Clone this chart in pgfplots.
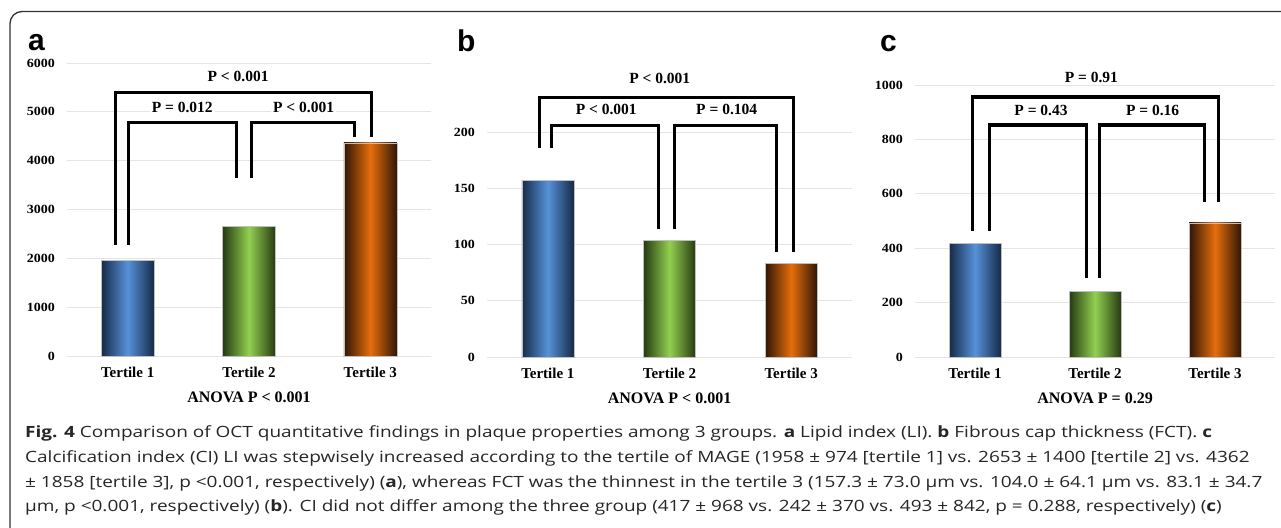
\documentclass[border=0pt]{standalone}
\usepackage{fontspec}
\setmainfont{Liberation Serif}
\newfontfamily\capfont{Open Sans}
\newfontfamily\letfont{Liberation Sans}
\usepackage{pgfplots}
\pgfplotsset{compat=1.18}
\definecolor{bluD}{RGB}{22,42,72}
\definecolor{bluL}{RGB}{86,146,216}
\definecolor{grnD}{RGB}{38,58,18}
\definecolor{grnL}{RGB}{146,208,80}
\definecolor{orgD}{RGB}{48,22,6}
\definecolor{orgL}{RGB}{230,110,12}
\definecolor{gridc}{RGB}{228,228,228}
\tikzset{plab/.style={fill=white, inner sep=2pt, font=\bfseries\fontsize{15.5}{16}\selectfont}}
\pgfplotsset{
  panel/.style={
    scale only axis, anchor=south west,
    xmin=-0.5, xmax=2.5, ymin=0,
    xtick={0,1,2}, xticklabels={Tertile 1,Tertile 2,Tertile 3},
    axis line style={draw=none}, tick style={draw=none},
    ymajorgrids, grid style={gridc, line width=1pt},
    clip=false, scaled y ticks=false,
    /pgf/number format/assume math mode=true,
    /pgf/number format/1000 sep={},
    yticklabel={\scalebox{1.12}[1]{\pgfmathprintnumber{\tick}}},
    yticklabel style={font=\bfseries\fontsize{12.5}{14}\selectfont, inner sep=0pt, anchor=east, xshift=-12pt},
    xticklabel style={font=\bfseries\fontsize{15}{16}\selectfont, inner sep=0pt, anchor=north, yshift=-11pt},
    xlabel style={at={(axis description cs:0.5,0)}, anchor=north, inner sep=0pt, yshift=-36pt, font=\bfseries\fontsize{16}{17}\selectfont},
  },
  brk/.style={black, line width=3.2pt, line join=miter, line cap=butt, mark=none},
  b1/.style={ybar, bar shift=0pt, draw=black!25, line width=0.4pt, left color=bluD, right color=bluD, middle color=bluL},
  b2/.style={ybar, bar shift=0pt, draw=black!25, line width=0.4pt, left color=grnD, right color=grnD, middle color=grnL},
  b3/.style={ybar, bar shift=0pt, draw=black!25, line width=0.4pt, left color=orgD, right color=orgD, middle color=orgL},
}
\begin{document}
\begin{tikzpicture}
\useasboundingbox (0pt,0pt) rectangle (1281pt,-527pt);
\fill[white] (0pt,0pt) rectangle (1281pt,-527pt);
\draw[line width=1.3pt, black!80, rounded corners=12pt] (1290pt,-11.5pt) -- (10pt,-11.5pt) -- (10pt,-535pt);

% panel a
\begin{axis}[panel, at={(67pt,-356pt)}, width=364pt, height=293pt, ymax=6000,
  ytick={0,1000,2000,3000,4000,5000,6000}, xlabel={ANOVA P < 0.001}]
\addplot[b1, bar width=53pt] coordinates {(0,1958)};
\addplot[b2, bar width=53pt] coordinates {(1,2653)};
\addplot[b3, bar width=53pt] coordinates {(2,4362)};
\addplot[brk] coordinates {(-0.10,2275) (-0.10,5389) (2.01,5389) (2.01,4488)};
\addplot[brk] coordinates {(0.01,2275) (0.01,4775) (0.90,4775) (0.90,3648)};
\addplot[brk] coordinates {(1.02,3648) (1.02,4775) (1.87,4775) (1.87,4488)};
\node[plab] at (axis cs:0.91,5717) {P < 0.001};
\node[plab] at (axis cs:0.45,5082) {P = 0.012};
\node[plab] at (axis cs:1.45,5082) {P < 0.001};
\end{axis}

% panel b
\begin{axis}[panel, at={(487pt,-357pt)}, width=365pt, height=225pt, ymax=200,
  ytick={0,50,100,150,200}, xlabel={ANOVA P < 0.001}]
\addplot[b1, bar width=52pt] coordinates {(0,157.3)};
\addplot[b2, bar width=52pt] coordinates {(1,104.0)};
\addplot[b3, bar width=52pt] coordinates {(2,83.1)};
\addplot[brk] coordinates {(-0.07,186) (-0.07,231) (2.02,231) (2.02,93)};
\addplot[brk] coordinates {(0.03,186) (0.03,206) (0.91,206) (0.91,114)};
\addplot[brk] coordinates {(1.04,114) (1.04,206) (1.88,206) (1.88,93)};
\node[plab] at (axis cs:0.92,248) {P < 0.001};
\node[plab] at (axis cs:0.48,219.6) {P < 0.001};
\node[plab] at (axis cs:1.47,219.6) {P = 0.104};
\end{axis}

% panel c
\begin{axis}[panel, at={(915pt,-357pt)}, width=360pt, height=272pt, ymax=1000,
  ytick={0,200,400,600,800,1000}, xlabel={ANOVA P = 0.29}]
\addplot[b1, bar width=52pt] coordinates {(0,417)};
\addplot[b2, bar width=52pt] coordinates {(1,242)};
\addplot[b3, bar width=52pt] coordinates {(2,493)};
\addplot[brk] coordinates {(-0.02,463) (-0.02,956) (2.03,956) (2.03,570)};
\addplot[brk] coordinates {(0.12,463) (0.12,853) (0.93,853) (0.93,290)};
\addplot[brk] coordinates {(1.04,290) (1.04,853) (1.91,853) (1.91,570)};
\node[plab] at (axis cs:0.97,1026) {P = 0.91};
\node[plab] at (axis cs:0.55,908) {P = 0.43};
\node[plab] at (axis cs:1.48,908) {P = 0.16};
\end{axis}

% panel letters
\node[anchor=base west, inner sep=0pt, font=\letfont\bfseries\fontsize{30}{30}\selectfont] at (28pt,-51pt) {a};
\node[anchor=base west, inner sep=0pt, font=\letfont\bfseries\fontsize{30}{30}\selectfont] at (457pt,-52pt) {b};
\node[anchor=base west, inner sep=0pt, font=\letfont\bfseries\fontsize{30}{30}\selectfont] at (880pt,-52pt) {c};

% caption
\begin{scope}[every node/.style={anchor=base west, inner sep=0pt, text=black!85, font=\capfont\fontsize{15.5}{18}\selectfont}]
\node at (25pt,-437pt) {\scalebox{1.225}[1]{\textbf{Fig. 4} Comparison of OCT quantitative findings in plaque properties among 3 groups. \textbf{a} Lipid index (LI). \textbf{b} Fibrous cap thickness (FCT). \textbf{c}}};
\node at (25pt,-462pt) {\scalebox{1.225}[1]{Calcification index (CI) LI was stepwisely increased according to the tertile of MAGE (1958 ± 974 [tertile 1] vs. 2653 ± 1400 [tertile 2] vs. 4362}};
\node at (25pt,-487pt) {\scalebox{1.225}[1]{± 1858 [tertile 3], p <0.001, respectively) (\textbf{a}), whereas FCT was the thinnest in the tertile 3 (157.3 ± 73.0 µm vs. 104.0 ± 64.1 µm vs. 83.1 ± 34.7}};
\node at (25pt,-511pt) {\scalebox{1.225}[1]{µm, p <0.001, respectively) (\textbf{b}). CI did not differ among the three group (417 ± 968 vs. 242 ± 370 vs. 493 ± 842, p = 0.288, respectively) (\textbf{c})}};
\end{scope}
\end{tikzpicture}
\end{document}
